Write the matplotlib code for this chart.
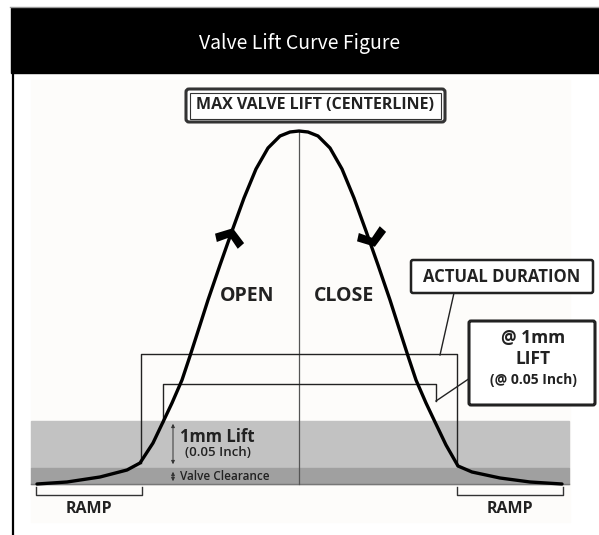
import matplotlib.pyplot as plt
from matplotlib.patches import Rectangle, FancyBboxPatch
from matplotlib.markers import MarkerStyle
from matplotlib.path import Path
from matplotlib.transforms import Affine2D

# valve lift curve (x = angle from centerline, y = lift, arbitrary units)
open_angle = [-262, -232, -199, -172, -159, -146, -136, -127, -117, -109, -99, -91, -79, -67, -55, -43, -31, -19, -9, 0]
open_lift = [0, 2, 7, 14, 21, 41, 62, 81, 104, 128, 159, 184, 219, 253, 286, 315, 336, 348, 352, 353]
close_angle = [9, 19, 31, 43, 55, 67, 79, 91, 99, 109, 117, 127, 136, 147, 159, 173, 201, 231, 263]
close_lift = [352, 348, 336, 315, 286, 253, 219, 184, 159, 128, 104, 81, 62, 39, 18, 12, 6, 2, 0]

# reference levels
lift_1mm = 63
clearance = 16
max_lift = 353

# duration brackets (open, close, height)
actual_duration = [-158, 158, 130]
duration_1mm = [-136, 137, 100]

# ramps (start, end)
ramp_open = [-263, -157]
ramp_close = [158, 264]

FONT = "Open Sans"
DARK = "#222222"

fig = plt.figure(figsize=(5.99, 5.35), dpi=100)
ax = fig.add_axes([0, 0, 1, 1])
ax.set_xlim(-299, 300)
ax.set_ylim(-51, 484)
ax.axis("off")

# page frame and header
ax.add_patch(Rectangle((0.018, 0.863), 0.982, 0.122, transform=ax.transAxes, color="black", zorder=1))
ax.plot([0.017, 1], [0.986, 0.986], transform=ax.transAxes, color="#999999", lw=1)
ax.plot([0.021, 0.021], [0.0, 0.863], transform=ax.transAxes, color="black", lw=1.6)
ax.text(1, 440, "Valve Lift Curve Figure", color="white", ha="center", va="center",
        fontsize=14, family=["Noto Sans CJK JP", "DejaVu Sans"])

# panel background
ax.add_patch(Rectangle((-268, -38), 539, 442, color="#fdfcfa", zorder=0))

# lift bands
ax.add_patch(Rectangle((-268, clearance), 538, lift_1mm - clearance, color="#c2c2c2", zorder=1))
ax.add_patch(Rectangle((-268, 0), 538, clearance, color="#a0a0a0", zorder=1))
ax.plot([-268, 270], [0, 0], color="#777777", lw=1, zorder=2)

# centerline
ax.plot([0, 0], [0, max_lift], color="#555555", lw=0.9, zorder=2)

# duration brackets
o, c, h = actual_duration
ax.plot([o, o, c, c], [21, h, h, 18], color=DARK, lw=1, zorder=2)
o, c, h = duration_1mm
ax.plot([o, o, c, c], [lift_1mm - 1, h, h, 83], color=DARK, lw=1, zorder=2)

# lift curve
ax.plot(open_angle + close_angle, open_lift + close_lift, color="black", lw=2.4,
        solid_joinstyle="round", solid_capstyle="round", zorder=4)

# chevrons on the curve
chev = Path([(0, 0.5), (1, -0.2), (0.72, -0.68), (0, -0.12), (-0.72, -0.68), (-1, -0.2), (0, 0.5)],
            [Path.MOVETO] + [Path.LINETO] * 5 + [Path.CLOSEPOLY])
ax.plot(-69, 249, marker=MarkerStyle(chev, transform=Affine2D().rotate_deg(-18)),
        ms=22, color="black", mew=0, zorder=5)
ax.plot(73, 245, marker=MarkerStyle(chev, transform=Affine2D().rotate_deg(198)),
        ms=22, color="black", mew=0, zorder=5)

# labels
ax.text(-52, 188, "OPEN", ha="center", va="center", fontsize=14, weight="bold", family=FONT, color=DARK)
ax.text(45, 188, "CLOSE", ha="center", va="center", fontsize=14, weight="bold", family=FONT, color=DARK)

# max lift box (double border)
ax.add_patch(FancyBboxPatch((-113, 362), 259, 33, boxstyle="round,pad=0,rounding_size=3",
                            fc="white", ec="#333333", lw=2.2, zorder=3))
ax.add_patch(Rectangle((-109, 365.5), 251, 26, fc="none", ec="#333333", lw=0.8, zorder=3))
ax.text(16, 379, "MAX VALVE LIFT (CENTERLINE)", ha="center", va="center", fontsize=11.5,
        weight="bold", family=FONT, color=DARK, zorder=4)

# actual duration box
ax.add_patch(FancyBboxPatch((112, 191), 182, 33, boxstyle="round,pad=0,rounding_size=2",
                            fc="white", ec=DARK, lw=1.8, zorder=3))
ax.text(203, 207, "ACTUAL DURATION", ha="center", va="center", fontsize=12,
        weight="bold", family=FONT, color=DARK, zorder=4)
ax.plot([141, 155], [129, 191], color=DARK, lw=1, zorder=2)

# 1mm lift box
ax.add_patch(FancyBboxPatch((170, 79), 126, 84, boxstyle="round,pad=0,rounding_size=2",
                            fc="white", ec=DARK, lw=2.2, zorder=3))
ax.text(234, 146, "@ 1mm", ha="center", va="center", fontsize=12.5, weight="bold", family=FONT, color=DARK, zorder=4)
ax.text(234, 125, "LIFT", ha="center", va="center", fontsize=12.5, weight="bold", family=FONT, color=DARK, zorder=4)
ax.text(234, 104, "(@ 0.05 Inch)", ha="center", va="center", fontsize=10, weight="bold", family=FONT, color=DARK, zorder=4)
ax.plot([137, 171], [83, 106], color=DARK, lw=1, zorder=2)

# band annotations
ax.annotate("", xy=(-126, lift_1mm), xytext=(-126, clearance + 1),
            arrowprops=dict(arrowstyle="<|-|>", color="#333333", lw=0.7, mutation_scale=5), zorder=3)
ax.annotate("", xy=(-126, clearance - 1), xytext=(-126, 0),
            arrowprops=dict(arrowstyle="<|-|>", color="#333333", lw=0.7, mutation_scale=5), zorder=3)
ax.text(-119, 47, "1mm Lift", ha="left", va="center", fontsize=12, weight="bold", family=FONT, color=DARK, zorder=3)
ax.text(-114, 31, "(0.05 Inch)", ha="left", va="center", fontsize=9.5, weight="semibold", family=FONT, color=DARK, zorder=3)
ax.text(-119, 7, "Valve Clearance", ha="left", va="center", fontsize=8.5, weight="semibold", family=FONT, color=DARK, zorder=3)

# ramps
for (a, b) in [ramp_open, ramp_close]:
    ax.plot([a, a, b, b], [-3, -11, -11, -3], color="#333333", lw=1, zorder=2)
    ax.text((a + b) / 2, -25, "RAMP", ha="center", va="center", fontsize=11.5, weight="bold", family=FONT, color=DARK)

fig.savefig("out.png", dpi=100)
